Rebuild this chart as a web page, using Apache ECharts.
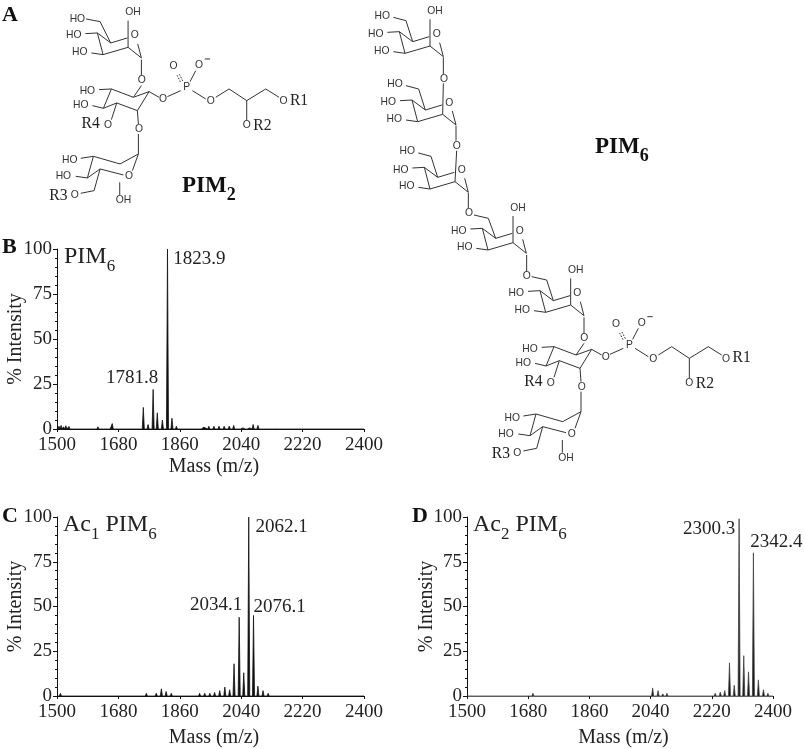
<!DOCTYPE html>
<html>
<head>
<meta charset="utf-8">
<style>
    html,body{margin:0;padding:0;background:#fff;}
    #chart{width:805px;height:749px;}
</style>
<script src="https://cdn.jsdelivr.net/npm/echarts@6/dist/echarts.min.js"></script>
</head>
<body>
<div id="chart"></div>
<script>
    var massTicks = [1500, 1680, 1860, 2040, 2220, 2400];
    var intensityTicks = [0, 25, 50, 75, 100];

    // peak lists
    var pim6Mass = [1506, 1512, 1519, 1526, 1535, 1548, 1562, 1578, 1590, 1605, 1620, 1640, 1653, 1662, 1675, 1690, 1705, 1723, 1738, 1753, 1767, 1781.8, 1794, 1809, 1823.9, 1837, 1850, 1865, 1880, 1895, 1908, 1920, 1930, 1945, 1960, 1975, 1990, 2005, 2018, 2035, 2045, 2055, 2065, 2075, 2089, 2102, 2115, 2128, 2142, 2155, 2170, 2185, 2200, 2215];
    var pim6Intensity = [1.5, 2, 1.2, 1.8, 1.4, 1, 1, 0.7, 1, 0.7, 1.2, 0.9, 0.6, 3, 0.6, 0.5, 0.5, 1, 0.6, 12, 2.5, 22, 9, 5, 100, 6, 1.5, 0.8, 0.6, 0.6, 0.6, 0.6, 1, 1.5, 1.5, 1.5, 1.5, 1.6, 2, 1, 0.6, 1, 0.6, 2.5, 2, 0.8, 0.5, 0.5, 0.4, 0.4, 0.4, 0.4, 0.4, 0.4];
    var pim6Labels = [1823.9, 1781.8];

    var ac1Mass = [1510, 1566, 1762, 1777, 1791, 1806, 1820, 1835, 1870, 1884, 1899, 1918, 1933, 1948, 1962, 1977, 1992, 2006, 2019, 2034.1, 2047.5, 2062.1, 2076.1, 2089, 2104, 2119, 2163, 2216, 2246];
    var ac1Intensity = [1.5, 1, 1.5, 1, 1.5, 4, 2.5, 1.5, 1, 1, 1, 1.5, 1.5, 1.5, 2, 3, 5, 3.5, 18, 44, 13, 100, 45, 5.5, 3, 1.5, 1, 1, 0.8];
    var ac1Labels = [2062.1, 2034.1, 2076.1];

    var ac2Mass = [1520, 1652, 1679, 1694, 2003, 2046, 2062, 2076, 2088, 2104, 2140, 2202, 2230, 2245, 2258, 2272, 2286, 2300.3, 2314, 2328, 2342.4, 2357, 2372, 2385];
    var ac2Intensity = [0.6, 0.7, 0.7, 1.5, 0.6, 4.5, 3, 1.2, 1.5, 1, 0.7, 1, 1.5, 2.2, 3, 18.5, 6, 99, 22.5, 13.5, 80, 9, 3.5, 1.5];
    var ac2Labels = [2300.3, 2342.4];

    var serif = '"Liberation Serif", serif';
    var ink = '#222';

    function peakLine(mass, intensity){
        var pts = [[1500, 0]];
        for (var i = 0; i < mass.length; i++){
            pts.push([mass[i] - 3, 0], [mass[i], intensity[i]], [mass[i] + 3, 0]);
        }
        pts.push([2400, 0]);
        return pts;
    }

    function peakMarks(mass, intensity, labels, offsets){
        return labels.map(function(m, i){
            return {
                name: String(m),
                coord: [m, intensity[mass.indexOf(m)]],
                label: {offset: offsets[i]}
            };
        });
    }

    function makeSeries(idx, mass, intensity, labels, offsets, lineColor){
        return {
            type: 'line',
            xAxisIndex: idx,
            yAxisIndex: idx,
            data: peakLine(mass, intensity),
            symbol: 'none',
            silent: true,
            animation: false,
            lineStyle: {color: lineColor, width: 0.8},
            areaStyle: {color: '#111', opacity: 1},
            markPoint: {
                symbol: 'circle',
                symbolSize: 0,
                animation: false,
                label: {
                    show: true,
                    position: 'inside',
                    formatter: '{b}',
                    color: ink,
                    fontFamily: serif,
                    fontSize: 19
                },
                data: peakMarks(mass, intensity, labels, offsets)
            }
        };
    }

    function makeX(idx, nameGap, lineColor){
        return {
            type: 'value', gridIndex: idx, min: 1500, max: 2400,
            name: 'Mass (m/z)', nameLocation: 'middle', nameGap: nameGap,
            nameTextStyle: {color: ink, fontFamily: serif, fontSize: 20, padding: [0, 0, 0, 7]},
            splitLine: {show: false},
            axisLine: {onZero: false, lineStyle: {color: lineColor, width: 1}},
            axisTick: {length: 3, customValues: massTicks, lineStyle: {color: '#111'}},
            axisLabel: {
                customValues: massTicks, margin: 7, color: ink, fontFamily: serif, fontSize: 19,
                showMinLabel: true, showMaxLabel: true, hideOverlap: false,
                formatter: function(v){ return String(v); }
            }
        };
    }

    function makeY(idx, nameGap){
        return {
            type: 'value', gridIndex: idx, min: intensityTicks[0], max: 100, interval: 25,
            name: '% Intensity', nameLocation: 'middle', nameGap: nameGap, nameRotate: 90,
            nameMoveOverlap: false,
            nameTextStyle: {color: ink, fontFamily: serif, fontSize: 20},
            splitLine: {show: false},
            minorSplitLine: {show: false},
            axisLine: {show: true, lineStyle: {color: '#111', width: 1}},
            axisTick: {show: true, length: 4, lineStyle: {color: '#111'}},
            minorTick: {show: true, splitNumber: 5, length: 2, lineStyle: {color: '#111'}},
            axisLabel: {margin: 5, color: ink, fontFamily: serif, fontSize: 19}
        };
    }

    // drawing helpers for the structures, all in 3x crop units, groups scale down by 1/3
    var bondColor = '#333';
    function bond(pts, dash){
        return {
            type: 'polyline', silent: true,
            shape: {points: pts},
            style: {stroke: bondColor, lineWidth: 3, fill: null, lineDash: dash || null}
        };
    }
    function atom(str, x, y){
        return {
            type: 'text', silent: true, x: x, y: y,
            style: {text: str, fill: bondColor, font: '31px "Liberation Sans", sans-serif', align: 'center', verticalAlign: 'middle'}
        };
    }
    function rgroup(str, x, y){
        return {
            type: 'text', silent: true, x: x, y: y,
            style: {text: str, fill: ink, font: '47px ' + serif, align: 'center', verticalAlign: 'middle'}
        };
    }
    function heading(str, sub, x, y){
        return {
            type: 'text', silent: true, x: x, y: y,
            style: {
                text: '{a|' + str + '}{s|' + sub + '}',
                verticalAlign: 'middle',
                rich: {
                    a: {font: 'bold 23px ' + serif, fill: '#111', verticalAlign: 'top', height: 26, lineHeight: 32},
                    s: {font: 'bold 18px ' + serif, fill: '#111', verticalAlign: 'bottom', height: 20, lineHeight: 32}
                }
            }
        };
    }
    function panelLetter(str, x, y){
        return {
            type: 'text', silent: true, x: x, y: y,
            style: {text: str, fill: '#111', font: 'bold 22px ' + serif, verticalAlign: 'middle'}
        };
    }

    // one mannose ring, dx/dy moves it, withOH adds the axial hydroxyl, withC6 the CH2OH
    function mannose(dx, dy, withOH, withC6){
        function s(p){
            return p.map(function(q){ return [q[0] + dx, q[1] + dy]; });
        }
        var items = [
            bond(s([[208, 95], [248, 125], [298, 110]])),
            bond(s([[208, 95], [225, 160], [300, 138], [340, 170]])),
            bond(s([[329, 128], [340, 170]])),
            bond(s([[172, 97], [208, 95]])),
            bond(s([[190, 155], [225, 160]])),
            atom('HO', 137 + dx, 102 + dy),
            atom('HO', 155 + dx, 152 + dy),
            atom('O', 320 + dx, 103 + dy)
        ];
        if (withOH){
            items.push(bond(s([[300, 58], [300, 138]])), atom('OH', 315 + dx, 33 + dy));
        }
        if (withC6){
            items.push(bond(s([[190, 52], [228, 62], [248, 125]])), atom('HO', 157 + dx, 47 + dy));
        }
        return items;
    }

    function sugarChain(){
        var items = [].concat(
            mannose(0, 0, true, true),
            mannose(38, 205, false, true),
            mannose(75, 407, false, true),
            mannose(249, 590, true, false)
        );
        items.push(
            bond([[340, 172], [340, 222]]), atom('O', 342, 236),
            bond([[340, 250], [338, 343]]),
            bond([[378, 377], [378, 422]]), atom('O', 380, 437),
            bond([[380, 452], [375, 545]]),
            bond([[415, 579], [415, 625]]), atom('O', 417, 640),
            bond([[432, 645], [475, 655], [497, 715]])
        );
        return items;
    }

    function core(){
        var items = mannose(92, 57, true, false);
        items.push(
            bond([[432, 232], [432, 280]]), atom('O', 433, 295),
            bond([[432, 310], [408, 345]]),
            bond([[342, 320], [408, 345], [455, 328], [420, 385], [358, 362], [318, 378], [342, 320]]),
            bond([[305, 322], [342, 320]]), atom('HO', 270, 328),
            bond([[285, 370], [318, 378]]), atom('HO', 250, 368),
            bond([[358, 362], [342, 412]]), atom('O', 332, 428), rgroup('R4', 280, 425),
            bond([[455, 328], [485, 345]]), atom('O', 497, 350),
            bond([[510, 343], [550, 325]]), atom('P', 568, 315),
            bond([[556, 296], [546, 276]], [5, 4]), bond([[549, 299], [539, 279]], [5, 4]), atom('O', 528, 252),
            bond([[578, 298], [595, 265]]), atom('O', 605, 250), bond([[622, 230], [638, 230]]),
            bond([[585, 325], [625, 350]]), atom('O', 640, 357),
            bond([[655, 345], [695, 320], [748, 355], [805, 320], [845, 345]]),
            atom('O', 858, 358), rgroup('R1', 905, 355),
            bond([[748, 355], [748, 415]]), atom('O', 748, 430), rgroup('R2', 795, 432),
            bond([[420, 385], [423, 425]]), atom('O', 425, 440),
            bond([[423, 455], [423, 515]]),
            bond([[423, 515], [368, 545], [288, 522], [270, 587], [308, 560], [378, 578]]),
            bond([[423, 515], [405, 565]]), atom('O', 395, 583),
            bond([[308, 560], [290, 625], [250, 633]]), atom('O', 232, 640), rgroup('R3', 183, 642),
            bond([[250, 528], [288, 522]]), atom('HO', 217, 535),
            bond([[235, 582], [270, 587]]), atom('HO', 198, 583),
            bond([[367, 600], [367, 638]]), atom('OH', 378, 655)
        );
        return items;
    }

    function coreLinkPim6(){
        return [
            bond([[275, 110], [320, 120], [340, 182]]),
            atom('O', 260, 107),
            bond([[260, 45], [260, 95]])
        ];
    }
    function coreLinkPim2(){
        return [
            bond([[266, 110], [308, 118], [340, 182]]),
            atom('HO', 240, 110)
        ];
    }

    function group(x, y, children){
        return {type: 'group', x: x, y: y, scaleX: 1 / 3, scaleY: 1 / 3, children: children};
    }

    function pimTitle(left, top, parts){
        return {
            left: left, top: top,
            text: parts,
            padding: 0,
            textStyle: {
                fontWeight: 'normal',
                rich: {
                    a: {fontFamily: serif, fontSize: 24, fontWeight: 'normal', color: ink, verticalAlign: 'top', height: 26, lineHeight: 32},
                    s: {fontFamily: serif, fontSize: 17, fontWeight: 'normal', color: ink, verticalAlign: 'bottom', height: 18, lineHeight: 32}
                }
            }
        };
    }

    var Chart = echarts.init(document.getElementById('chart'), null, {renderer: 'canvas'});
    Chart.setOption({
        backgroundColor: '#fff',
        animation: false,
        title: [
            pimTitle(64, 244, '{a|PIM}{s|6}'),
            pimTitle(63, 512, '{a|Ac}{s|1}{a| PIM}{s|6}'),
            pimTitle(473, 512, '{a|Ac}{s|2}{a| PIM}{s|6}')
        ],
        grid: [
            {left: 57, top: 249, width: 307, height: 180},
            {left: 57, top: 517, width: 307, height: 180},
            {left: 467, top: 517, width: 306, height: 180}
        ],
        xAxis: [makeX(0, 28, '#111'), makeX(1, 32, '#111'), makeX(2, 32, '#666')],
        yAxis: [makeY(0, 31), makeY(1, 31), makeY(2, 30)],
        series: [
            makeSeries(0, pim6Mass, pim6Intensity, pim6Labels, [[32, 10], [-21, -11]], '#111'),
            makeSeries(1, ac1Mass, ac1Intensity, ac1Labels, [[33, 10], [-23, -12], [26, -8]], '#111'),
            makeSeries(2, ac2Mass, ac2Intensity, ac2Labels, [[-30, 10], [23, -11]], '#444')
        ],
        graphic: [
            panelLetter('A', 2, 15),
            panelLetter('B', 2, 247),
            panelLetter('C', 2, 516),
            panelLetter('D', 412, 516),
            heading('PIM', '2', 182, 189),
            heading('PIM', '6', 595, 150),
            group(330, 0, sugarChain()),
            group(440, 240, core().concat(coreLinkPim6())),
            group(-2.6, -17.7, core().concat(coreLinkPim2()))
        ]
    });
</script>
</body>
</html>
